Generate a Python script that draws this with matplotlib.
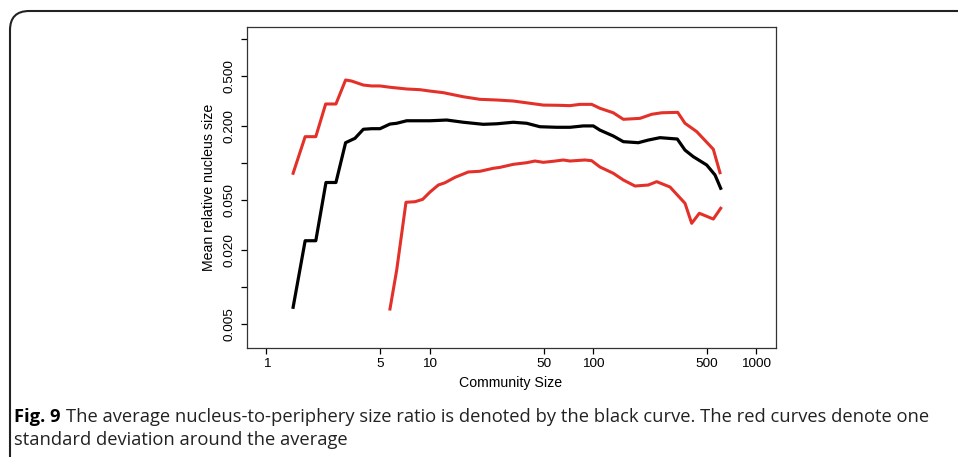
import numpy as np
import matplotlib
matplotlib.use("Agg")
import matplotlib.pyplot as plt
from matplotlib.patches import FancyBboxPatch
from matplotlib.ticker import FixedLocator, FixedFormatter, NullLocator

# black curve: mean nucleus-to-periphery ratio
x_mean = [1.46, 1.73, 2.01, 2.32, 2.67, 3.06, 3.49, 3.93, 4.42, 4.97, 5.72, 6.29,
          7.24, 8.73, 10.06, 12.73, 16.08, 21.33, 25.76, 32.55, 39.32, 47.4, 60.0,
          72.4, 87.35, 100.6, 110.5, 133.3, 153.6, 189.7, 218.3, 257.6, 328.7,
          366.4, 411.9, 497.7, 559.5, 606.1]
y_mean = [0.00686, 0.0236, 0.0236, 0.0696, 0.0696, 0.1457, 0.158, 0.187, 0.189,
          0.189, 0.206, 0.209, 0.219, 0.219, 0.219, 0.222, 0.213, 0.205, 0.207,
          0.213, 0.209, 0.196, 0.194, 0.194, 0.199, 0.199, 0.184, 0.165, 0.1485,
          0.1457, 0.153, 0.160, 0.156, 0.127, 0.1124, 0.0963, 0.080, 0.0625]

# upper red curve: mean + 1 sd
x_upper = [1.46, 1.73, 2.01, 2.31, 2.67, 3.06, 3.33, 3.93, 4.42, 4.97, 5.72, 7.24,
           8.73, 10.06, 12.13, 16.08, 20.35, 25.76, 32.55, 41.2, 49.7, 60.0, 72.4,
           83.4, 98.3, 110.5, 133.3, 153.6, 194.3, 229.1, 263.8, 330.6, 366.4,
           432.2, 546.2, 600.1]
y_upper = [0.0826, 0.163, 0.163, 0.299, 0.299, 0.467, 0.458, 0.425, 0.418, 0.418,
           0.408, 0.395, 0.390, 0.380, 0.369, 0.342, 0.326, 0.322, 0.316, 0.303,
           0.293, 0.292, 0.290, 0.297, 0.297, 0.276, 0.254, 0.225, 0.229, 0.247,
           0.254, 0.256, 0.209, 0.179, 0.129, 0.0835]

# lower red curve: mean - 1 sd
x_lower = [5.72, 6.29, 7.17, 8.14, 9.07, 10.06, 11.31, 12.43, 14.31, 17.26, 20.35,
           24.55, 27.0, 32.55, 39.32, 44.2, 49.7, 57.2, 65.9, 72.4, 89.4, 98.3,
           110.5, 133.3, 153.6, 181.0, 218.3, 245.9, 296.6, 366.4, 402.7, 448.4,
           546.2, 606.1]
y_lower = [0.00664, 0.0137, 0.0482, 0.0487, 0.0509, 0.0583, 0.0664, 0.0693,
           0.0766, 0.0846, 0.0857, 0.0906, 0.0922, 0.0975, 0.1005, 0.1037, 0.1012,
           0.1032, 0.1057, 0.1037, 0.1057, 0.1043, 0.0928, 0.0826, 0.0729, 0.0652,
           0.0664, 0.0707, 0.064, 0.0473, 0.0326, 0.0393, 0.0353, 0.0431]

x_ticks = [1, 5, 10, 50, 100, 500, 1000]
x_ticklabels = ["1", "5", "10", "50", "100", "500", "1000"]
y_ticks = [0.005, 0.01, 0.02, 0.05, 0.1, 0.2, 0.5, 1.0]
y_ticklabels = ["0.005", "", "0.020", "0.050", "", "0.200", "0.500", ""]

RED = "#e3312a"
W, H = 958, 457

plt.rcParams["font.family"] = ["Liberation Sans", "DejaVu Sans"]
fig = plt.figure(figsize=(W / 100, H / 100), dpi=100)

# outer frame of the figure panel (rounded top-left corner, open to right/bottom)
frame = FancyBboxPatch((10 / W, -0.2), 1.2, 1 - 11 / H + 0.2,
                       boxstyle="round,pad=0,rounding_size=0.02",
                       transform=fig.transFigure, fill=False,
                       edgecolor="#222222", linewidth=1.5, mutation_aspect=W / H)
fig.patches.append(frame)

ax = fig.add_axes([247 / W, 1 - 348 / H, 529 / W, 321 / H])
ax.plot(x_mean, y_mean, color="black", lw=2.3, solid_joinstyle="round")
ax.plot(x_upper, y_upper, color=RED, lw=2.2, solid_joinstyle="round")
ax.plot(x_lower, y_lower, color=RED, lw=2.2, solid_joinstyle="round")

ax.set_xscale("log")
ax.set_yscale("log")
ax.set_xlim(0.762, 1322)
ax.set_ylim(0.00322, 1.249)

ax.xaxis.set_major_locator(FixedLocator(x_ticks))
ax.xaxis.set_major_formatter(FixedFormatter(x_ticklabels))
ax.yaxis.set_major_locator(FixedLocator(y_ticks))
ax.yaxis.set_major_formatter(FixedFormatter(y_ticklabels))
ax.xaxis.set_minor_locator(NullLocator())
ax.yaxis.set_minor_locator(NullLocator())
ax.tick_params(axis="both", direction="out", length=4, width=0.9, labelsize=9.7,
               colors="black")
ax.tick_params(axis="x", pad=3)
ax.tick_params(axis="y", pad=4)
for lab in ax.get_yticklabels():
    lab.set_rotation(90)
    lab.set_va("center")

for sp in ax.spines.values():
    sp.set_linewidth(0.9)
    sp.set_color("#333333")

fig.text(511 / W, 1 - 383 / H, "Community Size", ha="center", va="center",
         fontsize=10.2)
fig.text(209 / W, 1 - 187 / H, "Mean relative nucleus size", ha="center",
         va="center", rotation=90, fontsize=10.2)

# caption
cap_font = ["Open Sans", "DejaVu Sans"]
cap_size = 13.25
t1 = fig.text(14 / W, 1 - 421.5 / H, "Fig. 9", fontweight="bold", fontsize=cap_size,
              family=cap_font, va="baseline", ha="left")
fig.canvas.draw()
bb = t1.get_window_extent(fig.canvas.get_renderer())
fig.text((bb.x1 + 5) / W, 1 - 421.5 / H,
         "The average nucleus-to-periphery size ratio is denoted by the black curve. "
         "The red curves denote one", fontsize=cap_size, family=cap_font,
         va="baseline", ha="left", color="#222222")
fig.text(14 / W, 1 - 445 / H, "standard deviation around the average",
         fontsize=cap_size, family=cap_font, va="baseline", ha="left", color="#222222")

fig.savefig("out.png", dpi=100)
